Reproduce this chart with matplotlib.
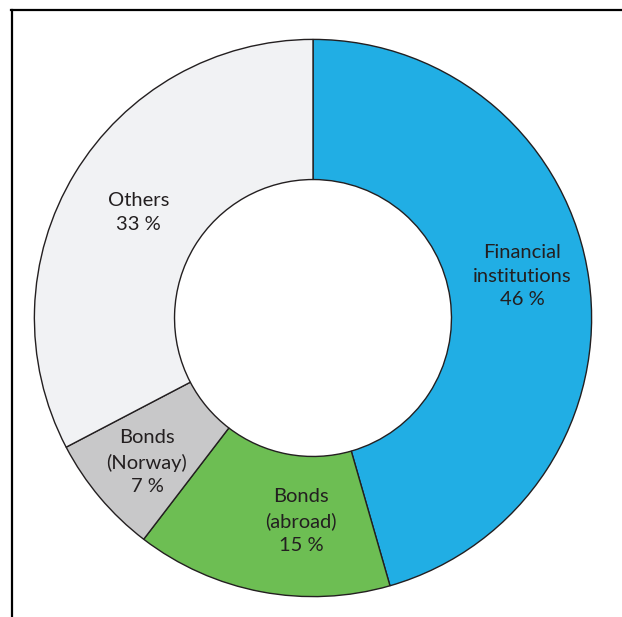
import matplotlib
matplotlib.use("Agg")
import matplotlib.pyplot as plt
from matplotlib.lines import Line2D

categories = ["Financial\ninstitutions", "Bonds\n(abroad)", "Bonds\n(Norway)", "Others"]
values = [46, 15, 7, 33]
pct_labels = ["46 %", "15 %", "7 %", "33 %"]
colors = ["#21AEE4", "#6DBE53", "#C8C8C9", "#F1F2F4"]
label_pos = [(0.75, 0.15), (-0.043, -0.729), (-0.596, -0.518), (-0.625, 0.379)]

W, H = 622, 617
fig = plt.figure(figsize=(W / 100, H / 100), dpi=100)
ax = fig.add_axes([33 / W, (H - 598) / H, 560 / W, 560 / H])

ax.pie(values, colors=colors, startangle=90, counterclock=False, radius=1.0,
       wedgeprops=dict(width=0.503, edgecolor="#231F20", linewidth=1.0))
ax.set_xlim(-1.005, 1.005)
ax.set_ylim(-1.005, 1.005)
ax.set_aspect("equal")
ax.axis("off")

for cat, pct, (x, y) in zip(categories, pct_labels, label_pos):
    ax.text(x, y, cat + "\n" + pct, ha="center", va="center", fontsize=14.5,
            family="Lato", color="#231F20", linespacing=1.48)

# partial frame: top and left lines
fig.add_artist(Line2D([11 / W, 1.0], [1 - 9.5 / H, 1 - 9.5 / H], transform=fig.transFigure,
                      color="black", linewidth=1.6))
fig.add_artist(Line2D([11.5 / W, 11.5 / W], [0, 1 - 9.5 / H], transform=fig.transFigure,
                      color="black", linewidth=1.6))

fig.savefig("out.png", dpi=100)
